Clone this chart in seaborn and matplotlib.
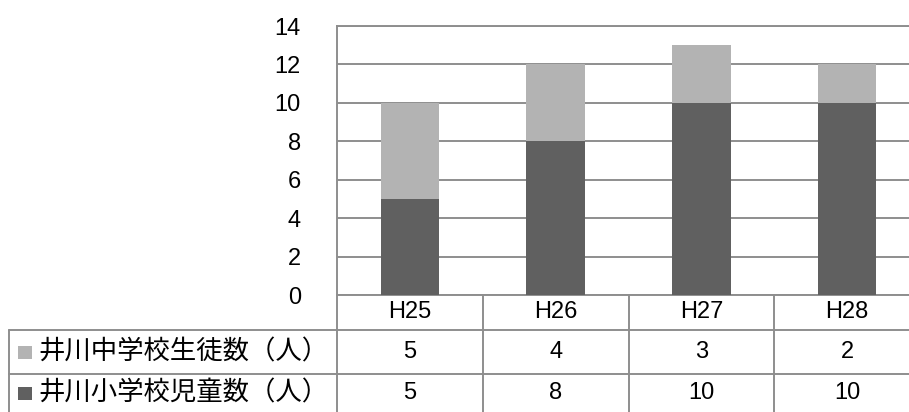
import matplotlib
matplotlib.use("Agg")
import matplotlib.pyplot as plt
import matplotlib.transforms as mtransforms
from matplotlib.lines import Line2D
from matplotlib.patches import Rectangle
import pandas as pd
import seaborn as sns

# Enrolment by fiscal year
years = ["H25", "H26", "H27", "H28"]
junior_high = [5, 4, 3, 2]    # 井川中学校生徒数
elementary = [5, 8, 10, 10]   # 井川小学校児童数
series_labels = ["井川中学校生徒数（人）", "井川小学校児童数（人）"]
y_ticks = [0, 2, 4, 6, 8, 10, 12, 14]

LIGHT = "#b3b3b3"
DARK = "#606060"
GRID = "#8e8e8e"
LW = 1.4

sns.set_theme(style="white")
plt.rcParams["font.family"] = ["Liberation Sans", "Noto Sans CJK JP", "DejaVu Sans"]

W, H = 909, 412
fig = plt.figure(figsize=(W / 100, H / 100), dpi=100)
fig.patch.set_facecolor("white")


def fx(p):
    return p / W


def fy(p):
    return 1 - p / H


# plot area (pixel geometry)
x_left, x_right = 337, 920
y_top, y_zero = 26, 295
ax = fig.add_axes([fx(x_left), fy(y_zero), (x_right - x_left) / W, (y_zero - y_top) / H])

df = pd.DataFrame({"year": years, "junior": junior_high, "elem": elementary})
df["total"] = df["junior"] + df["elem"]

# stacked bars: full height in light grey, elementary part overlaid in dark grey
sns.barplot(data=df, x="year", y="total", color=LIGHT, width=0.4, saturation=1,
            linewidth=0, ax=ax, zorder=3)
sns.barplot(data=df, x="year", y="elem", color=DARK, width=0.4, saturation=1,
            linewidth=0, ax=ax, zorder=4)

ax.set_xlim(-0.5, 3.5)
ax.set_ylim(0, 14)
ax.set_yticks(y_ticks)
ax.set_yticklabels([str(v) for v in y_ticks])
ax.tick_params(axis="y", length=0, pad=26, labelsize=17, colors="black")
ax.tick_params(axis="x", length=0, labelbottom=False)
ax.set_xlabel("")
ax.set_ylabel("")
ax.yaxis.grid(True, color=GRID, lw=LW)
ax.xaxis.grid(False)
ax.set_axisbelow(True)
for name, sp in ax.spines.items():
    sp.set_color(GRID)
    sp.set_linewidth(LW)
ax.spines["right"].set_visible(False)

# data table under the plot
def hline(y, xa, xb):
    fig.add_artist(Line2D([fx(xa), fx(xb)], [fy(y), fy(y)], color=GRID, lw=LW,
                          transform=fig.transFigure))


def vline(x, ya, yb):
    fig.add_artist(Line2D([fx(x), fx(x)], [fy(ya), fy(yb)], color=GRID, lw=LW,
                          transform=fig.transFigure))


row_lines = [330, 374]
for y in row_lines:
    hline(y, 9, x_right)
vline(9, 330, 412)
col_w = (x_right - x_left) / len(years)
for i in range(len(years) + 1):
    vline(x_left + i * col_w, y_zero, 412)

trans = mtransforms.blended_transform_factory(ax.transData, fig.transFigure)
cell_font = dict(family=["Liberation Sans Narrow", "Liberation Sans"], fontsize=17,
                 ha="center", va="center", color="black")
row_y = [312, 352, 393]
for i, yr in enumerate(years):
    fig.text(i, fy(row_y[0]), yr, transform=trans, **cell_font)
    fig.text(i, fy(row_y[1]), str(junior_high[i]), transform=trans, **cell_font)
    fig.text(i, fy(row_y[2]), str(elementary[i]), transform=trans, **cell_font)

for label, color, yc in zip(series_labels, [LIGHT, DARK], row_y[1:]):
    fig.add_artist(Rectangle((fx(18), fy(yc + 6.5)), 14 / W, 13 / H, facecolor=color,
                             edgecolor="none", transform=fig.transFigure))
    fig.text(fx(38), fy(yc), label, family=["Noto Sans CJK JP"], fontsize=19,
             ha="left", va="center", color="black")

fig.savefig("out.png", dpi=100, facecolor="white")
